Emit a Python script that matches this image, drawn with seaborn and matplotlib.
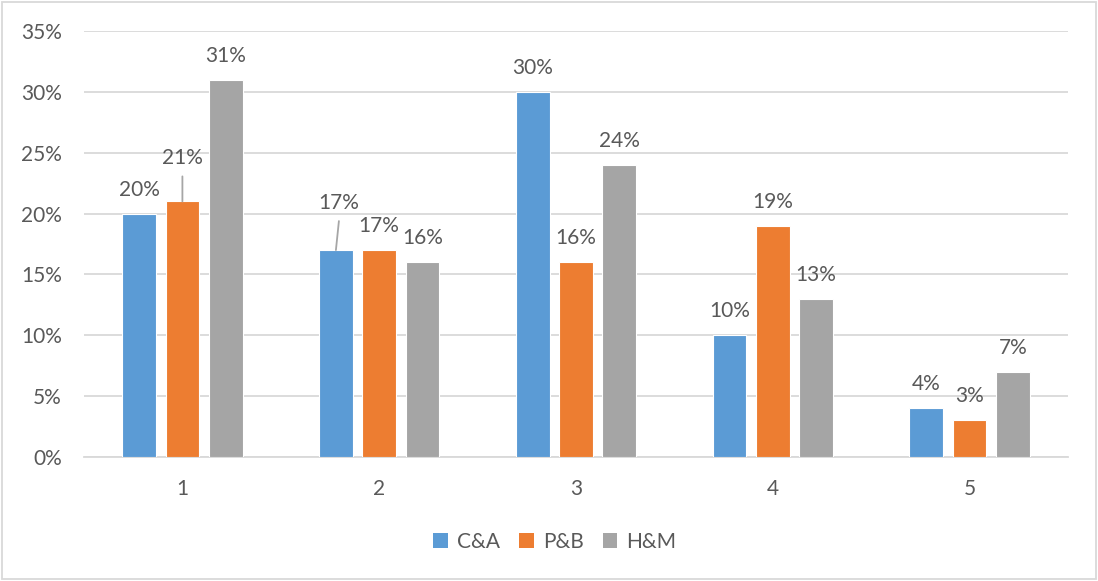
import matplotlib
matplotlib.use("Agg")
import matplotlib.pyplot as plt
from matplotlib.patches import Rectangle
from matplotlib.ticker import FuncFormatter
import seaborn as sns
import pandas as pd

# Survey shares (percent) per answer option
groups = ["1", "2", "3", "4", "5"]
brands = ["C&A", "P&B", "H&M"]
ca_values = [20, 17, 30, 10, 4]
pb_values = [21, 17, 16, 19, 3]
hm_values = [31, 16, 24, 13, 7]
y_ticks = [0, 5, 10, 15, 20, 25, 30, 35]

palette = ["#5B9BD5", "#ED7D31", "#A5A5A5"]
text_color = "#595959"
grid_color = "#D9D9D9"
font_size = 15

sns.set_style("white")
plt.rcParams["font.family"] = ["Lato", "DejaVu Sans"]

df = pd.DataFrame({
    "group": groups * 3,
    "brand": [b for b in brands for _ in groups],
    "share": ca_values + pb_values + hm_values,
})

fig = plt.figure(figsize=(10.98, 5.81), dpi=100)
ax = fig.add_axes([84 / 1098, 1 - 457 / 581, (1068 - 84) / 1098, (457 - 31) / 581])

sns.barplot(data=df, x="group", y="share", hue="brand", order=groups,
            hue_order=brands, palette=palette, width=0.66, gap=0.22,
            edgecolor="white", linewidth=0.8, saturation=1, errorbar=None,
            ax=ax, legend=False, zorder=3)

ax.set_ylim(0, 35)
ax.set_xlim(-0.5, len(groups) - 0.5)
ax.set_yticks(y_ticks)
ax.yaxis.set_major_formatter(FuncFormatter(lambda v, _: f"{v:.0f}%"))
ax.grid(axis="y", color=grid_color, linewidth=1.3, zorder=0)
ax.set_axisbelow(True)
for side in ["top", "right", "left"]:
    ax.spines[side].set_visible(False)
ax.spines["bottom"].set_color(grid_color)
ax.spines["bottom"].set_linewidth(1.3)
ax.tick_params(axis="y", length=0, pad=16, labelsize=font_size, labelcolor=text_color)
ax.tick_params(axis="x", length=0, pad=16, labelsize=font_size, labelcolor=text_color)
ax.set_xlabel("")
ax.set_ylabel("")

# Value labels; two labels are lifted with a leader line
lifted = {("P&B", 0): (0, 43, 25), ("C&A", 1): (3, 47, 29)}
series = {"C&A": ca_values, "P&B": pb_values, "H&M": hm_values}
for brand, container in zip(brands, ax.containers):
    for i, bar in enumerate(container):
        value = series[brand][i]
        x = bar.get_x() + bar.get_width() / 2
        top = bar.get_height()
        if (brand, i) in lifted:
            dx, dy, line_len = lifted[(brand, i)]
            ax.annotate("", xy=(x, top), xytext=(dx, line_len),
                        textcoords="offset pixels",
                        arrowprops=dict(arrowstyle="-", color="#A6A6A6",
                                        lw=1.3, shrinkA=0, shrinkB=0))
        else:
            dx, dy = 0, 24
        ax.annotate(f"{value}%", xy=(x, top), xytext=(dx, dy),
                    textcoords="offset pixels", ha="center", va="center",
                    fontsize=font_size, color=text_color)

# Legend below the plot
handles = [Rectangle((0, 0), 1, 1, facecolor=c, edgecolor="none") for c in palette]
fig.legend(handles, brands, loc="center", bbox_to_anchor=(555 / 1098, 1 - 542 / 581),
           ncol=3, frameon=False, handlelength=0.7, handleheight=0.7,
           handletextpad=0.45, columnspacing=0.9, fontsize=font_size,
           labelcolor=text_color)

# Chart area border
fig.patches.append(Rectangle((0.002, 0.003), 0.996, 0.994, transform=fig.transFigure,
                             fill=False, edgecolor=grid_color, linewidth=1.3))

fig.savefig("out.png", dpi=100, facecolor="white")
